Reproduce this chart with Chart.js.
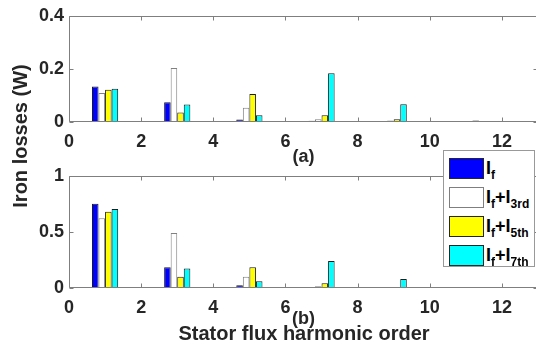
<!DOCTYPE html>
<html>
<head>
<meta charset="utf-8">
<script src="https://cdn.jsdelivr.net/npm/chart.js@4/dist/chart.umd.min.js"></script>
<style>
  html, body { margin:0; padding:0; background:#fff; width:536px; height:345px; overflow:hidden; position:relative; }
  canvas { position:absolute; left:0; }
  #cA { top:0; }
  #cB { top:160px; }
  .txt { position:absolute; font-family:"Liberation Sans", Arial, sans-serif; font-weight:bold; color:#262626; white-space:nowrap; }
  #xlabel { left:0; width:608px; top:323px; font-size:20px; line-height:20px; text-align:center; }
  #ylabel { left:-80px; width:200px; top:126px; font-size:20px; line-height:20px; text-align:center; transform:rotate(-90deg); }
  #legend { position:absolute; left:443px; top:150px; width:92px; height:117px; box-sizing:border-box; border:1px solid #999; background:#fff; z-index:5; }
  .patch { position:absolute; width:35px; height:21px; box-sizing:border-box; border:1px solid #262626; }
  .ltxt { position:absolute; font-size:18px; line-height:18px; font-family:"Liberation Sans", Arial, sans-serif; font-weight:bold; color:#000; white-space:nowrap; }
  .ltxt .sb { font-size:12px; position:relative; top:5px; }
</style>
</head>
<body>
<canvas id="cA" width="548" height="170"></canvas>
<canvas id="cB" width="548" height="185"></canvas>
<div id="ylabel" class="txt">Iron losses (W)</div>
<div id="xlabel" class="txt">Stator flux harmonic order</div>
<div id="legend"></div>
<script>
// ---- data ----
const harmonics = [1, 3, 5, 7, 9, 11];
const seriesLabels = ['I_f', 'I_f+I_3rd', 'I_f+I_5th', 'I_f+I_7th'];
const seriesColors = ['#0000ff', '#ffffff', '#ffff00', '#00ffff'];
// (a)
const lossA_If    = [0.134, 0.074, 0.009, 0.005, 0.003, 0.002];
const lossA_If3rd = [0.109, 0.203, 0.054, 0.010, 0.006, 0.002];
const lossA_If5th = [0.121, 0.036, 0.105, 0.025, 0.010, 0.003];
const lossA_If7th = [0.125, 0.066, 0.025, 0.184, 0.067, 0.006];
// (b)
const lossB_If    = [0.752, 0.185, 0.024, 0.008, 0.004, 0.002];
const lossB_If3rd = [0.622, 0.490, 0.100, 0.016, 0.004, 0.002];
const lossB_If5th = [0.680, 0.100, 0.185, 0.043, 0.006, 0.003];
const lossB_If7th = [0.705, 0.175, 0.060, 0.240, 0.080, 0.008];
// ticks
const xTicks  = [0, 2, 4, 6, 8, 10, 12];
const yTicksA = [0, 0.2, 0.4];
const yTicksB = [0, 0.5, 1];

// ---- styling ----
const FONT = '"Liberation Sans", Arial, sans-serif';
const AXIS = '#7f7f7f';
const TICKTXT = '#262626';
const edgeColors = ['#1a1a1a', '#808080', '#1a1a1a', '#1a1a1a'];

const boxPlugin = {
  id: 'matlabBox',
  afterDatasetsDraw(chart) {
    const { ctx, chartArea: a, scales: { x, y } } = chart;
    const L = Math.round(a.left) + 0.5, R = Math.round(a.right) - 0.5;
    const T = Math.round(a.top) + 0.5, B = Math.round(a.bottom) - 0.5;
    ctx.save();
    ctx.strokeStyle = AXIS;
    ctx.lineWidth = 1;
    ctx.beginPath();
    ctx.moveTo(L, T); ctx.lineTo(R, T); ctx.lineTo(R, B); ctx.lineTo(L, B); ctx.closePath();
    const tl = 4;
    x.ticks.forEach(t => {
      const px = Math.round(x.getPixelForValue(t.value)) + 0.5;
      ctx.moveTo(px, B); ctx.lineTo(px, B - tl);
      ctx.moveTo(px, T); ctx.lineTo(px, T + tl);
    });
    y.ticks.forEach(t => {
      const py = Math.round(y.getPixelForValue(t.value)) + 0.5;
      ctx.moveTo(L, py); ctx.lineTo(L + tl, py);
      ctx.moveTo(R, py); ctx.lineTo(R - tl, py);
    });
    ctx.stroke();
    ctx.restore();
  }
};

function makeChart(id, series, yMax, yTicks, title, padTop, xAxisH, titlePadBottom) {
  return new Chart(document.getElementById(id), {
    type: 'bar',
    data: {
      datasets: series.map((vals, i) => ({
        label: seriesLabels[i],
        data: harmonics.map((h, k) => ({ x: h, y: vals[k] })),
        backgroundColor: seriesColors[i],
        borderColor: edgeColors[i],
        borderWidth: 1,
        borderSkipped: false,
        categoryPercentage: 0.363,
        barPercentage: 1.0
      }))
    },
    options: {
      responsive: false,
      animation: false,
      devicePixelRatio: 1,
      layout: { padding: { left: 0, top: padTop, right: 10, bottom: 0 } },
      plugins: { legend: { display: false }, tooltip: { enabled: false }, title: { display: false } },
      scales: {
        x: {
          type: 'linear', min: 0, max: 13, offset: false,
          grid: { display: false, offset: false, drawTicks: false },
          border: { display: false },
          afterBuildTicks: s => { s.ticks = xTicks.map(v => ({ value: v })); },
          afterFit: s => { s.height = xAxisH; },
          ticks: { autoSkip: false, maxRotation: 0, padding: 9, color: TICKTXT,
                   font: { family: FONT, size: 18, weight: 'bold' } },
          title: { display: true, text: title, color: TICKTXT,
                   font: { family: FONT, size: 18, weight: 'bold' },
                   padding: { top: 0, bottom: titlePadBottom } }
        },
        y: {
          type: 'linear', min: 0, max: yMax,
          grid: { display: false, drawTicks: false },
          border: { display: false },
          afterBuildTicks: s => { s.ticks = yTicks.map(v => ({ value: v })); },
          afterFit: s => { s.width = 69; },
          ticks: { padding: 5, color: TICKTXT, font: { family: FONT, size: 18, weight: 'bold' },
                   callback: v => String(v) }
        }
      }
    },
    plugins: [boxPlugin]
  });
}

makeChart('cA', [lossA_If, lossA_If3rd, lossA_If5th, lossA_If7th], 0.4, yTicksA, '(a)', 14, 48, 2);
makeChart('cB', [lossB_If, lossB_If3rd, lossB_If5th, lossB_If7th], 1, yTicksB, '(b)', 16, 57, 15);

// ---- legend (HTML, subscripts) ----
const legend = document.getElementById('legend');
seriesLabels.forEach((lab, i) => {
  const top = 7 + i * 29; // relative to legend box
  const p = document.createElement('div');
  p.className = 'patch';
  p.style.left = '5px';
  p.style.top = top + 'px';
  p.style.background = seriesColors[i];
  p.style.borderColor = i === 1 ? '#7f7f7f' : '#262626';
  legend.appendChild(p);
  const t = document.createElement('div');
  t.className = 'ltxt';
  t.style.left = '42px';
  t.style.top = (top + 1) + 'px';
  lab.split('+').forEach((part, j) => {
    if (j > 0) t.appendChild(document.createTextNode('+'));
    const [main, sub] = part.split('_');
    t.appendChild(document.createTextNode(main));
    if (sub) { const s = document.createElement('span'); s.className = 'sb'; s.textContent = sub; t.appendChild(s); }
  });
  legend.appendChild(t);
});
</script>
</body>
</html>
